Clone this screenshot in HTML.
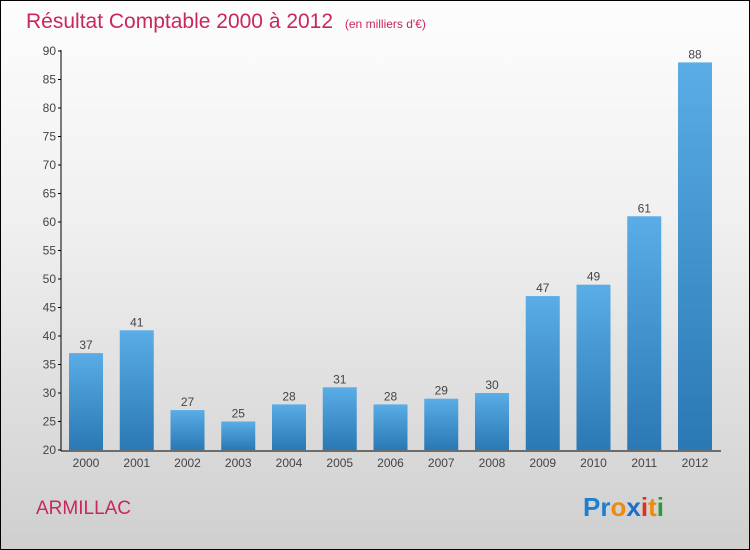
<!DOCTYPE html>
<html><head><meta charset="utf-8"><style>
body{margin:0}
#c{width:748px;height:548px;border:1px solid #000;background:linear-gradient(#fdfdfd,#f0f0f0 40%,#cfcfcf);position:relative;overflow:hidden;font-family:"Liberation Sans",sans-serif}
</style></head><body>
<div id="c">
<svg width="748" height="548">
<defs><linearGradient id="g" x1="0" y1="0" x2="0" y2="1"><stop offset="0" stop-color="#5aade6"/><stop offset="1" stop-color="#2a78b4"/></linearGradient></defs>
<text x="25" y="27" font-size="21" fill="#c8285a">Résultat Comptable 2000 à 2012 <tspan font-size="12" dx="6">(en milliers d'€)</tspan></text>
<g id="axes"></g><g id="bars"></g>
<text x="35" y="513" font-size="19" fill="#c8285a">ARMILLAC</text>
<text x="582" y="515" font-size="26" font-weight="bold"><tspan fill="#1e7fd0">Pr</tspan><tspan fill="#ee8a10">o</tspan><tspan fill="#1e6fc8">x</tspan><tspan fill="#e0301a">i</tspan><tspan fill="#ee8a10">t</tspan><tspan fill="#2a9a3a">i</tspan></text>
</svg></div>
<script>
const years=["2000","2001","2002","2003","2004","2005","2006","2007","2008","2009","2010","2011","2012"];
const values=[37,41,27,25,28,31,28,29,30,47,49,61,88];
const yTicks=[20,25,30,35,40,45,50,55,60,65,70,75,80,85,90];
const NS="http://www.w3.org/2000/svg";
const y=v=>449-(v-20)*(399/70);
const x=i=>85+i*50.75;
function mk(t,a,p){const e=document.createElementNS(NS,t);for(const k in a)e.setAttribute(k,a[k]);p.appendChild(e);return e;}
const ax=document.getElementById('axes'),bg=document.getElementById('bars');
const yl=mk('line',{x1:60,y1:49,x2:60,y2:450,stroke:'#000'},ax);


const xl=mk('line',{x1:60,y1:450,x2:720,y2:450,stroke:'#000'},ax);


yTicks.forEach(v=>{
 mk('line',{x1:57,x2:60,y1:y(v),y2:y(v),stroke:'#000'},ax);
 const t=mk('text',{x:55,y:y(v)+4,'font-size':12,fill:'#444','text-anchor':'end'},ax);t.textContent=v;
 
 
});
years.forEach((yr,i)=>{
 const r=mk('rect',{x:x(i)-17,y:y(values[i]),width:34,height:449-y(values[i]),fill:'url(#g)'},bg);
 
 
 const l=mk('text',{x:x(i),y:y(values[i])-4,'font-size':12,fill:'#444','text-anchor':'middle'},bg);l.textContent=values[i];
 
 
 const t=mk('text',{x:x(i),y:466,'font-size':12,fill:'#444','text-anchor':'middle'},ax);t.textContent=yr;
 
 
});
</script></body></html>
